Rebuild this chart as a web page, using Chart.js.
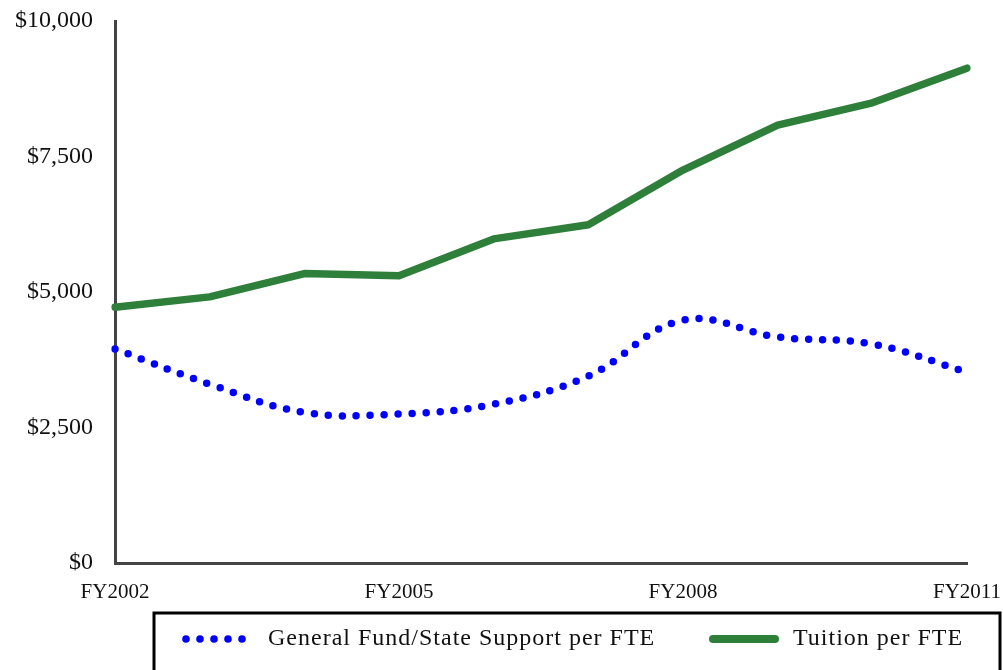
<!DOCTYPE html>
<html>
<head>
<meta charset="utf-8">
<script src="https://cdn.jsdelivr.net/npm/chart.js@4/dist/chart.umd.min.js"></script>
<style>
  html, body { margin: 0; padding: 0; background: #fff; }
  #wrap { width: 1003px; height: 670px; position: relative; }
</style>
</head>
<body>
<div id="wrap"><canvas id="c" width="1003" height="670"></canvas></div>
<script>
// Fiscal years on the x axis; only every third one gets a label.
const years = ['FY2002', 'FY2003', 'FY2004', 'FY2005', 'FY2006', 'FY2007', 'FY2008', 'FY2009', 'FY2010', 'FY2011'];
const shownYears = ['FY2002', 'FY2005', 'FY2008', 'FY2011'];

// Dollars per FTE.
const generalFund = [3950, 3300, 2780, 2750, 2930, 3450, 4480, 4170, 4040, 3520];
const tuition = [4720, 4910, 5340, 5300, 5980, 6240, 7250, 8080, 8490, 9130];

const yTicks = [0, 2500, 5000, 7500, 10000];

const SERIF = '"Liberation Serif", "Times New Roman", serif';
const BLUE = '#0000ff';
const GREEN = '#2e7f3a';
const AXIS = '#444444';

// Boxed legend under the plot, drawn by hand since Chart.js has no legend border.
const boxLegend = {
  id: 'boxLegend',
  afterDraw(chart) {
    const ctx = chart.ctx;
    ctx.save();
    ctx.strokeStyle = '#000';
    ctx.lineWidth = 3;
    ctx.strokeRect(154, 613, 846, 70);

    const y = 639;
    // dotted sample
    ctx.fillStyle = BLUE;
    for (let i = 0; i < 5; i++) {
      ctx.beginPath();
      ctx.arc(186 + i * 14, y, 3.8, 0, Math.PI * 2);
      ctx.fill();
    }
    // solid sample
    ctx.strokeStyle = GREEN;
    ctx.lineWidth = 8;
    ctx.lineCap = 'round';
    ctx.beginPath();
    ctx.moveTo(713, y);
    ctx.lineTo(775, y);
    ctx.stroke();

    ctx.fillStyle = '#111';
    ctx.font = '24px ' + SERIF;
    ctx.letterSpacing = '1px';
    ctx.textBaseline = 'middle';
    ctx.fillText('General Fund/State Support per FTE', 268, y);
    ctx.fillText('Tuition per FTE', 793, y);
    ctx.restore();
  },
};

new Chart(document.getElementById('c'), {
  type: 'line',
  data: {
    labels: years,
    datasets: [
      {
        label: 'General Fund/State Support per FTE',
        data: generalFund,
        borderColor: BLUE,
        borderWidth: 7.5,
        borderDash: [0, 14],
        borderCapStyle: 'round',
        tension: 0.4,
        pointRadius: 0,
        fill: false,
      },
      {
        label: 'Tuition per FTE',
        data: tuition,
        borderColor: GREEN,
        borderWidth: 7.5,
        borderCapStyle: 'round',
        borderJoinStyle: 'round',
        tension: 0,
        pointRadius: 0,
        fill: false,
      },
    ],
  },
  options: {
    responsive: false,
    animation: false,
    layout: { padding: { top: 21, right: 36, left: 0, bottom: 0 } },
    plugins: { legend: { display: false }, tooltip: { enabled: false } },
    scales: {
      x: {
        offset: false,
        grid: { display: false, drawTicks: false },
        border: { display: true, color: AXIS, width: 3 },
        afterFit: (s) => {
          s.height = 107;
          s.paddingLeft = 0;
          s.paddingRight = 0;
        },
        ticks: {
          autoSkip: false,
          maxRotation: 0,
          padding: 17,
          color: '#111',
          font: { family: SERIF, size: 21 },
          callback: function (v) {
            const l = this.getLabelForValue(v);
            return shownYears.includes(l) ? l : '';
          },
        },
      },
      y: {
        min: 0,
        max: 10000,
        afterBuildTicks: (s) => { s.ticks = yTicks.map((v) => ({ value: v })); },
        afterFit: (s) => {
          s.width = 115;
          s.paddingTop = 0;
          s.paddingBottom = 0;
        },
        grid: { display: false, drawTicks: false },
        border: { display: true, color: AXIS, width: 3 },
        ticks: {
          padding: 22,
          color: '#111',
          font: { family: SERIF, size: 24 },
          callback: (v) => '$' + v.toLocaleString('en-US'),
        },
      },
    },
  },
  plugins: [boxLegend],
});
</script>
</body>
</html>
